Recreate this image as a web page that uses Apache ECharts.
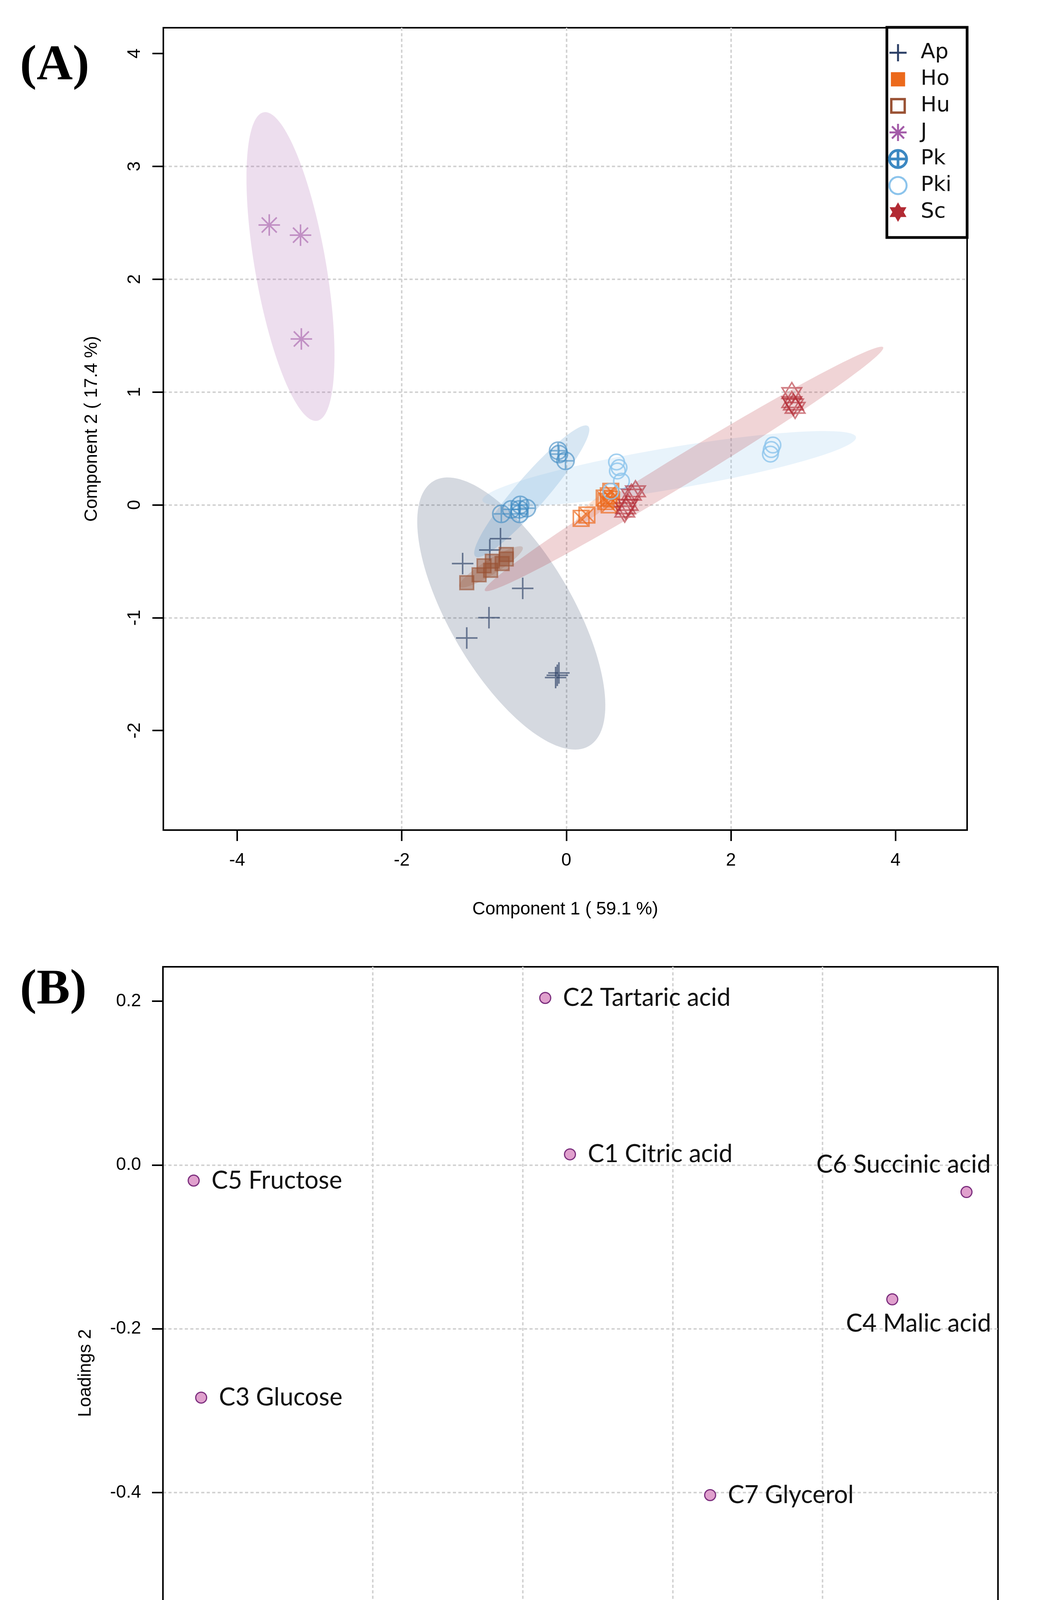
<!DOCTYPE html>
<html>
<head>
<meta charset="utf-8">
<script src="https://cdn.jsdelivr.net/npm/echarts@6/dist/echarts.min.js"></script>
<style>
  html, body { margin: 0; padding: 0; background: #fff; }
  #main { width: 2682px; height: 4887px; }
</style>
</head>
<body>
<div id="main"></div>
<script>
const chart = echarts.init(document.getElementById('main'))

// (A) sample scores, one array per group: [component 1, component 2]
const groups = ['Ap', 'Ho', 'Hu', 'J', 'Pk', 'Pki', 'Sc']
const apScores = [[-0.80, -0.30], [-0.93, -0.40], [-1.26, -0.52], [-0.53, -0.74], [-0.94, -1.00], [-1.21, -1.18], [-0.09, -1.49], [-0.13, -1.53], [-0.11, -1.51]]
const hoScores = [[0.18, -0.12], [0.25, -0.09], [0.54, 0.12], [0.51, 0.08], [0.48, 0.03], [0.52, 0.00], [0.46, 0.06], [0.55, 0.05]]
const huScores = [[-1.21, -0.69], [-1.06, -0.62], [-1.00, -0.54], [-0.92, -0.58], [-0.90, -0.50], [-0.78, -0.52], [-0.73, -0.44], [-0.73, -0.48]]
const jScores = [[-3.61, 2.48], [-3.23, 2.39], [-3.22, 1.47]]
const pkScores = [[-0.10, 0.48], [-0.09, 0.45], [-0.01, 0.39], [-0.79, -0.08], [-0.67, -0.04], [-0.57, -0.04], [-0.56, 0.00], [-0.48, -0.03], [-0.57, -0.08]]
const pkiScores = [[0.61, 0.38], [0.64, 0.33], [0.62, 0.30], [0.67, 0.21], [0.54, 0.12], [2.51, 0.53], [2.49, 0.49], [2.48, 0.45]]
const scScores = [[0.72, -0.03], [0.79, 0.09], [0.84, 0.12], [0.75, 0.00], [0.71, -0.06], [2.74, 0.99], [2.74, 0.91], [2.78, 0.86], [2.76, 0.89]]

// group ellipses: [centre x, centre y, semi-major dx, semi-major dy, minor/major ratio]
const apEllipse = [-0.669, -0.963, 0.944, -1.174, 0.40]
const hoEllipse = [0.37, -0.01, 0.25, 0.15, 0.25]
const huEllipse = [-0.915, -0.55, 0.384, 0.174, 0.20]
const jEllipse = [-3.352, 2.112, 0.324, -1.367, 0.227]
const pkEllipse = [-0.42, 0.12, 0.685, 0.577, 0.18]
const pkiEllipse = [1.25, 0.32, 2.27, 0.28, 0.11]
const scEllipse = [1.43, 0.318, 2.42, 1.078, 0.061]

// (B) variable loadings
const loadingNames = ['C1 Citric acid', 'C2 Tartaric acid', 'C3 Glucose', 'C4 Malic acid', 'C5 Fructose', 'C6 Succinic acid', 'C7 Glycerol', 'C8 Acetic acid', 'C9 Ethanol']
const loading1 = [0.063, 0.030, -0.429, 0.493, -0.439, 0.592, 0.250, 0.296, 0.493]
const loading2 = [0.013, 0.204, -0.284, -0.164, -0.019, -0.033, -0.403, -0.713, -0.673]

// tick labels
const ticksA1 = [-4, -2, 0, 2, 4]
const ticksA2 = [-2, -1, 0, 1, 2, 3, 4]
const ticksB1 = [-0.4, -0.2, 0, 0.2, 0.4, 0.6]
const ticksB2 = [-0.6, -0.4, -0.2, 0, 0.2]

const scores = { Ap: apScores, Ho: hoScores, Hu: huScores, J: jScores, Pk: pkScores, Pki: pkiScores, Sc: scScores }
const ellipses = { Ap: apEllipse, Ho: hoEllipse, Hu: huEllipse, J: jEllipse, Pk: pkEllipse, Pki: pkiEllipse, Sc: scEllipse }

const colors = {
  Ap: '#2b3f66', Ho: '#ec6a1c', Hu: '#9a5234', J: '#a35ba8',
  Pk: '#3c88c2', Pki: '#8cc4ec', Sc: '#b22a33'
}
const fade = (hex, a) => {
  const n = parseInt(hex.slice(1), 16)
  return `rgba(${n >> 16},${(n >> 8) & 255},${n & 255},${a})`
}

const symbols = {
  Ap: 'path://M0,5L10,5M5,0L5,10',
  Ho: 'path://M0,0L10,0L10,10L0,10ZM0,0L10,10M10,0L0,10',
  Hu: 'rect',
  J: 'path://M0,5L10,5M5,0L5,10M1.5,1.5L8.5,8.5M8.5,1.5L1.5,8.5',
  Pk: 'path://M0,5A5,5,0,1,1,10,5A5,5,0,1,1,0,5ZM0,5L10,5M5,0L5,10',
  Pki: 'circle',
  Sc: 'path://M5,0L9.33,7.5L0.67,7.5ZM5,10L0.67,2.5L9.33,2.5Z'
}
const sizes = { Ap: 55, Ho: 40, Hu: 35, J: 55, Pk: 44, Pki: 40, Sc: [50, 54] }
const strokeAlpha = { Ap: 0.65, Ho: 0.7, Hu: 0.6, J: 0.6, Pk: 0.6, Pki: 0.8, Sc: 0.6 }

// a square drawn inside a slightly larger empty box, so the legend keeps it small
const legendSquare = 'path://M0,0M1.1,1.1L8.9,1.1L8.9,8.9L1.1,8.9ZM10,10'
const legendItems = {
  Ap: { icon: symbols.Ap, itemStyle: { color: 'transparent', borderColor: colors.Ap, borderWidth: 5 } },
  Ho: { icon: legendSquare, itemStyle: { color: colors.Ho, borderColor: colors.Ho, borderWidth: 2 } },
  Hu: { icon: legendSquare, itemStyle: { color: 'transparent', borderColor: colors.Hu, borderWidth: 6 } },
  J: { icon: symbols.J, itemStyle: { color: 'transparent', borderColor: colors.J, borderWidth: 5 } },
  Pk: { icon: symbols.Pk, itemStyle: { color: 'transparent', borderColor: colors.Pk, borderWidth: 7 } },
  Pki: { icon: 'circle', itemStyle: { color: 'transparent', borderColor: colors.Pki, borderWidth: 5 } },
  Sc: { icon: symbols.Sc, itemStyle: { color: colors.Sc, borderColor: colors.Sc, borderWidth: 3 } }
}

// where labels of (B) sit relative to their point, when not to the right
const labelPlacement = {
  'C4 Malic acid': { position: 'inside', align: 'right', offset: [253, 62] },
  'C6 Succinic acid': { position: 'inside', align: 'right', offset: [62, -70] },
  'C9 Ethanol': { position: 'inside', align: 'right', offset: [253, -55] }
}

const axisFont = { fontFamily: 'Liberation Sans', fontSize: 46, color: '#000' }
const splitLine = { show: true, showMinLine: false, showMaxLine: false, lineStyle: { color: '#d3d3d3', width: 4, type: [8, 6] } }
const tick = (values) => ({ show: true, inside: false, length: 28, customValues: values, lineStyle: { color: '#000', width: 4 } })
const boxLine = { show: true, onZero: false, lineStyle: { color: '#000', width: 4 } }

const ellipseSeries = {
  type: 'custom',
  xAxisIndex: 0,
  yAxisIndex: 0,
  z: 1,
  silent: true,
  clip: true,
  data: groups.map(g => ellipses[g]),
  renderItem: (params, api) => {
    const c = api.coord([api.value(0), api.value(1)])
    const e = api.coord([api.value(0) + api.value(2), api.value(1) + api.value(3)])
    const ux = e[0] - c[0], uy = e[1] - c[1], r = api.value(4)
    const pts = []
    for (let i = 0; i < 144; i++) {
      const t = i / 144 * Math.PI * 2
      pts.push([c[0] + ux * Math.cos(t) - uy * r * Math.sin(t), c[1] + uy * Math.cos(t) + ux * r * Math.sin(t)])
    }
    return { type: 'polygon', shape: { points: pts }, style: { fill: fade(colors[groups[params.dataIndex]], 0.2) } }
  }
}

const scoreSeries = groups.map(g => ({
  name: g,
  type: 'scatter',
  xAxisIndex: 0,
  yAxisIndex: 0,
  z: 2,
  symbol: symbols[g],
  symbolSize: sizes[g],
  data: scores[g],
  itemStyle: {
    color: g === 'Hu' ? fade(colors[g], 0.45) : 'transparent',
    borderColor: fade(colors[g], strokeAlpha[g]),
    borderWidth: 4,
    opacity: 1
  }
}))

const loadingSeries = {
  name: 'loadings',
  type: 'scatter',
  xAxisIndex: 1,
  yAxisIndex: 1,
  symbol: 'circle',
  symbolSize: 28,
  itemStyle: { color: '#e0a0cd', borderColor: '#7b2d7d', borderWidth: 3, opacity: 1 },
  label: {
    show: true,
    position: 'right',
    distance: 30,
    formatter: '{b}',
    fontFamily: 'Lato',
    fontSize: 63,
    color: '#111'
  },
  data: loadingNames.map((n, i) => ({ name: n, value: [loading1[i], loading2[i]], label: labelPlacement[n] }))
}

const option = {
  backgroundColor: '#fff',
  animation: false,
  title: [
    { text: '(A)', left: 51, top: 106, padding: 0, textStyle: { fontFamily: 'Liberation Serif', fontWeight: 'bold', fontSize: 128, color: '#000' } },
    { text: '(B)', left: 51, top: 2472, padding: 0, textStyle: { fontFamily: 'Liberation Serif', fontWeight: 'bold', fontSize: 128, color: '#000' } }
  ],
  legend: {
    orient: 'vertical',
    right: 207,
    top: 70,
    padding: [38, 40, 38, 3],
    itemWidth: 106,
    itemHeight: 44,
    itemGap: 14,
    selectedMode: false,
    borderColor: '#000',
    borderWidth: 7,
    backgroundColor: '#fff',
    textStyle: { fontFamily: 'DejaVu Sans', fontSize: 54, color: '#111' },
    data: groups.map(g => Object.assign({ name: g }, legendItems[g]))
  },
  grid: [
    { left: 418, top: 71, width: 2057, height: 2054, show: true, borderColor: '#000', borderWidth: 4, backgroundColor: 'transparent' },
    { left: 417, top: 2475, width: 2137, height: 2080, show: true, borderColor: '#000', borderWidth: 4, backgroundColor: 'transparent' }
  ],
  xAxis: [
    {
      type: 'value', gridIndex: 0, position: 'bottom', min: -4.897, max: 4.870,
      axisLine: boxLine, axisTick: tick(ticksA1), splitLine,
      axisLabel: Object.assign({ customValues: ticksA1, margin: 55 }, axisFont),
      name: 'Component 1 ( 59.1 %)', nameLocation: 'middle', nameGap: 180, nameTextStyle: axisFont
    },
    {
      type: 'value', gridIndex: 1, position: 'bottom', min: -0.480, max: 0.634,
      axisLine: boxLine, axisTick: tick(ticksB1), splitLine,
      axisLabel: Object.assign({ customValues: ticksB1, margin: 62, rotate: 90, formatter: v => v.toFixed(1) }, axisFont),
      name: 'Loadings 1', nameLocation: 'middle', nameGap: 190, nameTextStyle: axisFont
    }
  ],
  yAxis: [
    {
      type: 'value', gridIndex: 0, position: 'left', min: -2.882, max: 4.228,
      axisLine: boxLine, axisTick: tick(ticksA2), splitLine,
      axisLabel: Object.assign({ customValues: ticksA2, margin: 50, rotate: 90 }, axisFont),
      name: 'Component 2 ( 17.4 %)', nameLocation: 'middle', nameGap: 160, nameTextStyle: axisFont
    },
    {
      type: 'value', gridIndex: 1, position: 'left', min: -0.750, max: 0.242,
      axisLine: boxLine, axisTick: tick(ticksB2), splitLine,
      axisLabel: Object.assign({ customValues: ticksB2, margin: 56, formatter: v => v.toFixed(1) }, axisFont),
      name: 'Loadings 2', nameLocation: 'middle', nameGap: 175, nameTextStyle: axisFont
    }
  ],
  series: [ellipseSeries].concat(scoreSeries, [loadingSeries])
}

chart.setOption(option)
</script>
</body>
</html>
